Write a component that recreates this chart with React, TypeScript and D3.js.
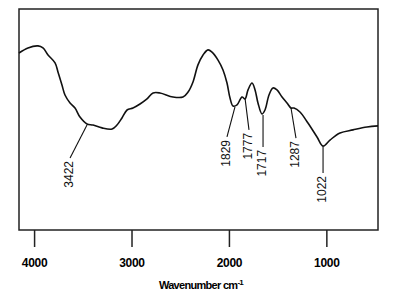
import React from "react";
import * as d3 from "d3";

// Spectrum trace: wavenumber (cm-1) and transmittance (arbitrary %)
const wavenumbers = [
  4160, 4068, 3965, 3914, 3862, 3790, 3760, 3719, 3688, 3636, 3585, 3534, 3462, 3400,
  3308, 3205, 3154, 3103, 3051, 2990, 2918, 2846, 2784, 2713, 2579, 2477, 2425, 2374,
  2323, 2271, 2220, 2179, 2117, 2066, 2025, 1994, 1963, 1922, 1871, 1840, 1809, 1768,
  1737, 1707, 1666, 1635, 1594, 1553, 1512, 1460, 1409, 1368, 1337, 1276, 1194, 1101,
  1039, 968, 865, 731, 588, 475,
];
const transmittance = [
  80.1, 82.4, 83.3, 82.4, 79.2, 75.6, 71.5, 65.6, 61.1, 57.5, 55.2, 51.1, 48.0, 47.5,
  46.2, 45.7, 47.5, 50.7, 54.3, 55.2, 57.0, 59.3, 62.0, 62.0, 60.2, 60.2, 62.4, 67.0,
  74.7, 79.2, 81.5, 80.5, 76.9, 72.4, 66.5, 59.7, 56.1, 56.6, 60.2, 59.3, 63.4, 66.5,
  63.4, 57.5, 52.5, 54.3, 61.1, 64.3, 63.4, 60.2, 57.5, 55.2, 55.2, 53.4, 48.4, 42.1,
  38.0, 40.7, 43.9, 45.3, 46.6, 47.1,
];

// Peak annotations
const peakLabels = ["3422", "1829", "1777", "1717", "1287", "1022"];
const peakAnchorW = [3462, 1943, 1840, 1655, 1368, 1039];
const peakAnchorT = [47.5, 55.7, 59.7, 52.0, 55.2, 38.0];
const peakEndW = [3636, 2025, 1799, 1655, 1317, 1039];
const peakEndT = [32.6, 42.1, 45.3, 37.6, 41.6, 25.8];

const xTicks = [4000, 3000, 2000, 1000];
const xDomain = [4160, 475];
const yDomain = [0, 100];

export default function App() {
  const W = 399;
  const H = 301;
  const left = 19, right = 378, top = 9, bottom = 230;

  const x = d3.scaleLinear().domain(xDomain).range([left, right]);
  const y = d3.scaleLinear().domain(yDomain).range([bottom, top]);

  const pts: [number, number][] = wavenumbers.map((w, i) => [w, transmittance[i]]);
  const line = d3
    .line<[number, number]>()
    .x((d) => x(d[0]))
    .y((d) => y(d[1]))
    .curve(d3.curveCatmullRom.alpha(0.5));

  return (
    <svg
      width={W}
      height={H}
      style={{ position: "absolute", left: 0, top: 0, background: "#fff" }}
      fontFamily="'Liberation Sans', Arial, sans-serif"
    >
      <rect
        x={left}
        y={top}
        width={right - left}
        height={bottom - top}
        fill="none"
        stroke="#222"
        strokeWidth={1.5}
      />
      <path d={line(pts) || ""} fill="none" stroke="#111" strokeWidth={1.6} strokeLinejoin="round" />

      {peakLabels.map((lab, i) => {
        const ax = x(peakAnchorW[i]);
        const ay = y(peakAnchorT[i]);
        const ex = x(peakEndW[i]);
        const ey = y(peakEndT[i]);
        const tx = ex - 1.5;
        const ty = ey + 3;
        return (
          <g key={lab}>
            <line x1={ax} y1={ay} x2={ex} y2={ey} stroke="#111" strokeWidth={1.1} />
            <text
              x={tx}
              y={ty}
              transform={`rotate(-90, ${tx}, ${ty})`}
              textAnchor="end"
              dy="0.36em"
              fontSize={12}
              fill="#111"
            >
              {lab}
            </text>
          </g>
        );
      })}

      {xTicks.map((t) => (
        <g key={t}>
          <line x1={x(t)} x2={x(t)} y1={bottom} y2={bottom + 17} stroke="#222" strokeWidth={1.5} />
          <text
            x={x(t)}
            y={bottom + 37}
            textAnchor="middle"
            fontSize={12}
            fontWeight="bold"
            letterSpacing={-0.3}
            fill="#000"
          >
            {t}
          </text>
        </g>
      ))}

      <text
        x={201}
        y={289}
        textAnchor="middle"
        fontSize={11}
        fontWeight="bold"
        letterSpacing={-0.7}
        fill="#000"
      >
        Wavenumber cm
        <tspan dy={-4} fontSize={8}>
          -1
        </tspan>
      </text>
    </svg>
  );
}
